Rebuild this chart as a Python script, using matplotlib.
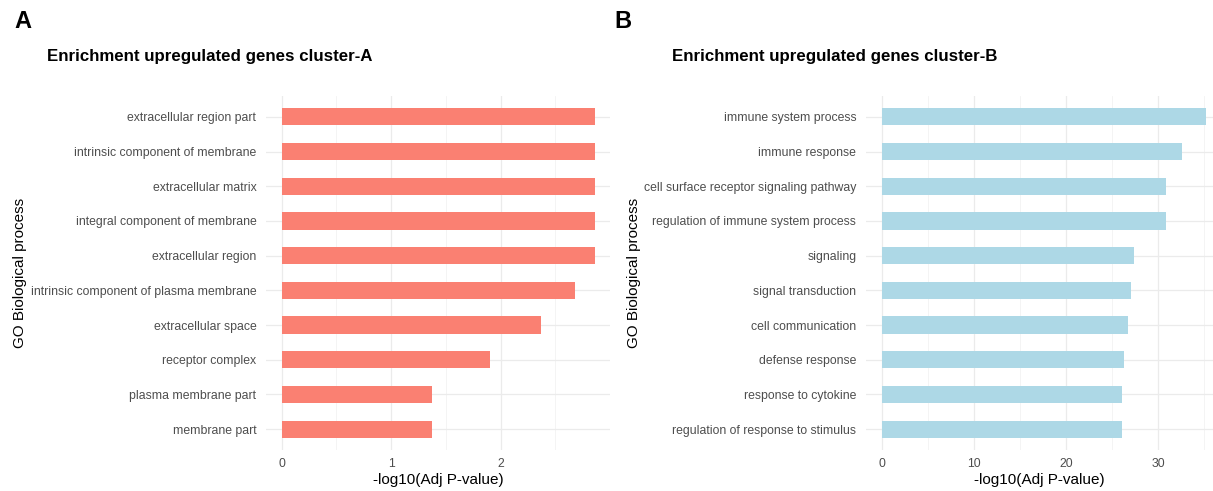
import matplotlib.pyplot as plt
import numpy as np

plt.rcParams['font.family'] = ['Liberation Sans', 'DejaVu Sans']

# Panel A data (top to bottom)
terms_a = ['extracellular region part', 'intrinsic component of membrane',
           'extracellular matrix', 'integral component of membrane',
           'extracellular region', 'intrinsic component of plasma membrane',
           'extracellular space', 'receptor complex',
           'plasma membrane part', 'membrane part']
values_a = [2.86, 2.86, 2.86, 2.86, 2.86, 2.68, 2.37, 1.90, 1.37, 1.37]

# Panel B data (top to bottom)
terms_b = ['immune system process', 'immune response',
           'cell surface receptor signaling pathway',
           'regulation of immune system process', 'signaling',
           'signal transduction', 'cell communication', 'defense response',
           'response to cytokine', 'regulation of response to stimulus']
values_b = [35.2, 32.6, 30.8, 30.8, 27.4, 27.0, 26.7, 26.3, 26.1, 26.05]

W, H = 1213, 491
fig = plt.figure(figsize=(W / 100, H / 100), dpi=100)


def px_axes(x0, x1, y0, y1):
    return fig.add_axes([x0 / W, 1 - y1 / H, (x1 - x0) / W, (y1 - y0) / H])


def draw_panel(ax, terms, values, color, xlim, major, minor):
    n = len(terms)
    ypos = np.arange(n)[::-1]
    ax.set_axisbelow(True)
    ax.barh(ypos, values, height=0.5, color=color)
    ax.set_xlim(*xlim)
    ax.set_ylim(-0.6, n - 0.4)
    ax.set_yticks(ypos)
    ax.set_yticklabels(terms, fontsize=8.8, color='#4D4D4D')
    ax.set_xticks(major)
    ax.set_xticklabels([str(m) for m in major], fontsize=8.8, color='#4D4D4D')
    ax.set_xticks(minor, minor=True)
    ax.grid(True, which='major', color='#EBEBEB', linewidth=0.9)
    ax.grid(True, which='minor', axis='x', color='#F3F3F3', linewidth=0.6)
    ax.tick_params(axis='y', which='both', length=0, pad=7)
    ax.tick_params(axis='x', which='both', length=0, pad=5.5)
    for s in ax.spines.values():
        s.set_visible(False)
    ax.set_xlabel('-log10(Adj P-value)', fontsize=11, labelpad=2.5)


# Panel A
ax1 = px_axes(266, 610, 96, 450)
draw_panel(ax1, terms_a, values_a, '#FA8072', (-0.143, 3.0), [0, 1, 2], [0.5, 1.5, 2.5])
ax1.set_ylabel('GO Biological process', fontsize=11)
ax1.yaxis.set_label_coords((27 - 266) / 344, 0.5)
fig.text(14 / W, 1 - 21 / H, 'A', fontsize=17, fontweight='bold', va='center', ha='left')
fig.text(47 / W, 1 - 56 / H, 'Enrichment upregulated genes cluster-A', fontsize=12.2,
         fontweight='bold', va='center', ha='left')

# Panel B
ax2 = px_axes(866, 1213, 96, 450)
draw_panel(ax2, terms_b, values_b, '#ADD8E6', (-1.76, 35.95), [0, 10, 20, 30], [5, 15, 25, 35])
ax2.set_ylabel('GO Biological process', fontsize=11)
ax2.yaxis.set_label_coords((641 - 866) / 347, 0.5)
fig.text(614 / W, 1 - 21 / H, 'B', fontsize=17, fontweight='bold', va='center', ha='left')
fig.text(672 / W, 1 - 56 / H, 'Enrichment upregulated genes cluster-B', fontsize=12.2,
         fontweight='bold', va='center', ha='left')

fig.savefig('out.png', dpi=100, facecolor='white')
